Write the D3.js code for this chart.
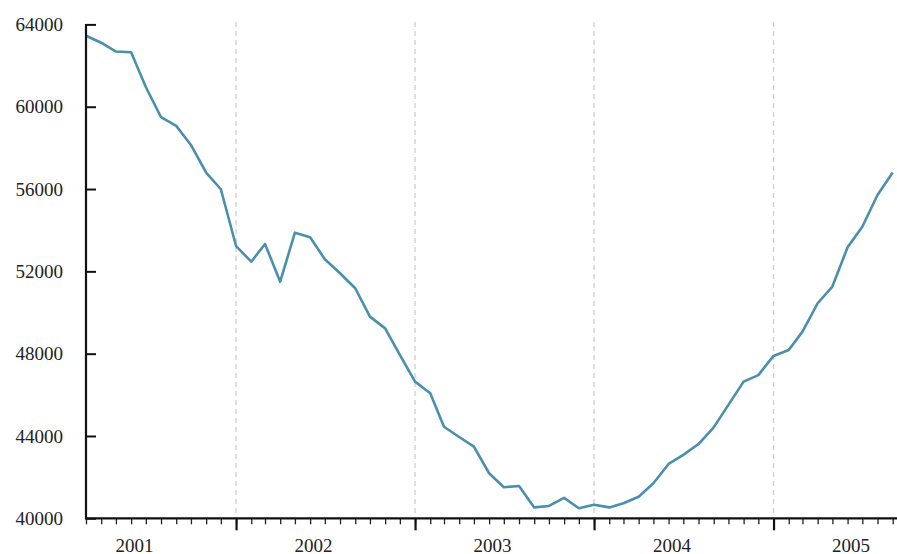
<!DOCTYPE html>
<html>
<head>
<meta charset="utf-8">
<script src="https://cdn.jsdelivr.net/npm/d3@7"></script>
<style>
    body { margin: 0; background: #fff; }
    .tick text { font-family: "Liberation Serif", "DejaVu Serif", serif; font-size: 19px; fill: #222; }
</style>
</head>
<body>
<div id="chart"></div>
<script>
// monthly values, Mar 2001 .. Sep 2005
var startMonth = new Date(2001, 2, 1);
var values = [
    63450, 63110, 62680, 62650, 60960, 59490, 59070, 58140, 56800, 55990,
    53230, 52470, 53330, 51500, 53880, 53660, 52590, 51910, 51180, 49800,
    49230, 47940, 46640, 46080, 44450, 43950, 43480, 42190, 41510, 41570,
    40530, 40600, 40990, 40490, 40660, 40530, 40730, 41050, 41700, 42640,
    43080, 43610, 44420, 45510, 46640, 46960, 47890, 48180, 49070, 50450,
    51260, 53170, 54170, 55710, 56800
];
var yTicks = [40000, 44000, 48000, 52000, 56000, 60000, 64000];
var yearLabels = [2001, 2002, 2003, 2004, 2005];

var width = 897, height = 554;
var plotLeft = 86, plotRight = 892.7, plotTop = 24.4, plotBottom = 518.3;

var data = values.map(function (v, i) {
    return {date: d3.timeMonth.offset(startMonth, i), value: v};
});

var svg = d3.select("#chart").append("svg").attr("width", width).attr("height", height);

var x = d3.scaleTime().domain([data[0].date, data[data.length - 1].date]).range([plotLeft, plotRight]);
var y = d3.scaleLinear().domain([40000, 64000]).range([plotBottom, plotTop]);

// dashed year separators
var years = d3.timeYear.range(d3.timeYear.ceil(x.domain()[0]), x.domain()[1]);
svg.append("g").selectAll("line").data(years).enter().append("line")
    .attr("x1", function (d) { return x(d); }).attr("x2", function (d) { return x(d); })
    .attr("y1", 22).attr("y2", plotBottom)
    .attr("stroke", "#cfcfcf").attr("stroke-width", 1.3).attr("stroke-dasharray", "5,4");

// line
var line = d3.line().x(function (d) { return x(d.date); }).y(function (d) { return y(d.value); });
svg.append("path").datum(data).attr("d", line)
    .attr("fill", "none").attr("stroke", "#4a8fae").attr("stroke-width", 2.6)
    .attr("stroke-linejoin", "round");

// y axis, ticks pointing inward
var yAxis = svg.append("g").attr("transform", "translate(" + plotLeft + ",0)")
    .call(d3.axisLeft(y).tickValues(yTicks).tickSize(-10).tickPadding(23).tickFormat(d3.format("d")));
yAxis.select(".domain").remove();
yAxis.selectAll(".tick line").attr("stroke", "#111").attr("stroke-width", 2);
svg.append("line").attr("x1", plotLeft).attr("x2", plotLeft).attr("y1", plotTop - 0.5).attr("y2", plotBottom + 1)
    .attr("stroke", "#111").attr("stroke-width", 2.2);

// x axis: month ticks, longer year ticks, labels mid-year
var minor = svg.append("g").attr("transform", "translate(0," + plotBottom + ")")
    .call(d3.axisBottom(x).ticks(d3.timeMonth.every(1)).tickSize(6).tickFormat(""));
minor.select(".domain").remove();
minor.selectAll(".tick line").attr("stroke", "#222").attr("stroke-width", 1.3);

var major = svg.append("g").attr("transform", "translate(0," + plotBottom + ")")
    .call(d3.axisBottom(x).tickValues(years).tickSize(12).tickFormat(""));
major.select(".domain").remove();
major.selectAll(".tick line").attr("stroke", "#111").attr("stroke-width", 2.2);

var labels = svg.append("g").attr("transform", "translate(3," + plotBottom + ")")
    .call(d3.axisBottom(x).tickValues(yearLabels.map(function (yr) { return new Date(yr, 5, 1); }))
        .tickSize(0).tickPadding(20).tickFormat(d3.timeFormat("%Y")));
labels.select(".domain").remove();

svg.append("line").attr("x1", plotLeft - 1).attr("x2", width).attr("y1", plotBottom).attr("y2", plotBottom)
    .attr("stroke", "#111").attr("stroke-width", 2.2);
</script>
</body>
</html>
